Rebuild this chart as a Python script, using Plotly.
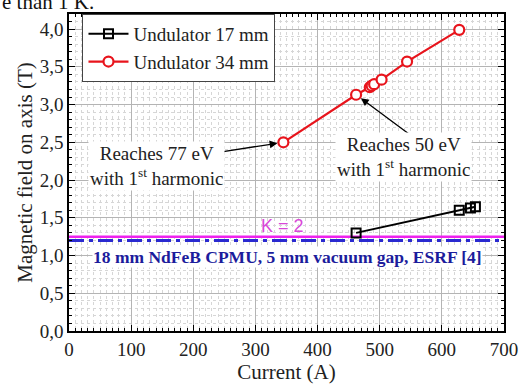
import plotly.graph_objects as go

# ---- data ----
cur_17 = [462, 628, 646, 654]
field_17 = [1.30, 1.60, 1.63, 1.645]
cur_34 = [345, 462, 484, 487, 491, 503, 544, 628]
field_34 = [2.50, 3.13, 3.23, 3.25, 3.27, 3.33, 3.57, 3.99]
k2_level = 1.25
esrf_level = 1.20
x_range = [0, 700]
y_range = [0, 4.2]
y_ticks = [0, 0.5, 1, 1.5, 2, 2.5, 3, 3.5, 4]
x_ticks = [0, 100, 200, 300, 400, 500, 600, 700]

SERIF = "Liberation Serif"

fig = go.Figure()

# reference lines
fig.add_trace(go.Scatter(x=x_range, y=[esrf_level, esrf_level], mode="lines",
                         line=dict(color="#2a2ad0", width=3, dash="15px,5px,4px,5px"),
                         showlegend=False, hoverinfo="skip"))
fig.add_trace(go.Scatter(x=x_range, y=[k2_level, k2_level], mode="lines",
                         line=dict(color="#ee22ee", width=2.5),
                         showlegend=False, hoverinfo="skip"))

fig.add_trace(go.Scatter(x=cur_17, y=field_17, mode="lines+markers", name="Undulator 17 mm",
                         line=dict(color="black", width=2),
                         marker=dict(symbol="square-open", size=9, color="black",
                                     line=dict(width=2, color="black"))))
fig.add_trace(go.Scatter(x=cur_34, y=field_34, mode="lines+markers", name="Undulator 34 mm",
                         line=dict(color="#e8141c", width=2.2),
                         marker=dict(symbol="circle", size=10, color="white",
                                     line=dict(width=2.2, color="#e8141c"))))

axis_common = dict(
    showline=True, linecolor="black", linewidth=1.5, mirror="allticks",
    ticks="inside", ticklen=6, tickwidth=1.2, tickcolor="black",
    showgrid=True, gridcolor="#b4b4b4", gridwidth=1, zeroline=False,
    tickfont=dict(family=SERIF, size=19, color="#222"),
)

fig.update_xaxes(range=x_range, tickvals=x_ticks,
                 title=dict(text="Current (A)", font=dict(family=SERIF, size=21, color="#222"), standoff=0),
                 minor=dict(dtick=10, showgrid=True, gridcolor="#d6d6d6", griddash="dot",
                            ticks="inside", ticklen=3, tickcolor="black"),
                 **axis_common)
fig.update_yaxes(range=y_range, tickvals=y_ticks, tickformat=".1f",
                 title=dict(text="Magnetic field on axis (T)", font=dict(family=SERIF, size=21, color="#222"), standoff=1),
                 minor=dict(dtick=0.1, showgrid=True, gridcolor="#d6d6d6", griddash="dot",
                            ticks="inside", ticklen=3, tickcolor="black"),
                 **axis_common)

annotations = [
    dict(x=351.6, y=0.98, xref="x", yref="y", showarrow=False,
         text="<b>18 mm NdFeB CPMU, 5 mm vacuum gap, ESRF [4]</b>",
         font=dict(family=SERIF, size=17.5, color="#1c1c9c"), bgcolor="white", borderpad=0),
    dict(x=343, y=1.385, xref="x", yref="y", showarrow=False, text="K = 2",
         font=dict(family="Liberation Sans", size=18, color="#d848d8")),
    # arrows
    dict(x=345, y=2.5, xref="x", yref="y", ax=238, ay=2.365, axref="x", ayref="y",
         text="", showarrow=True, arrowhead=2, arrowsize=1.2, arrowwidth=1.3,
         arrowcolor="black", standoff=6),
    dict(x=462, y=3.13, xref="x", yref="y", ax=549, ay=2.60, axref="x", ayref="y",
         text="", showarrow=True, arrowhead=2, arrowsize=1.2, arrowwidth=1.3,
         arrowcolor="black", standoff=6),
    dict(x=141, y=2.18, xref="x", yref="y", showarrow=False,
         text="Reaches 77 eV<br>with 1<sup>st</sup> harmonic",
         font=dict(family=SERIF, size=19, color="#222"), bgcolor="white", borderpad=1),
    dict(x=538, y=2.30, xref="x", yref="y", showarrow=False,
         text="Reaches 50 eV<br>with 1<sup>st</sup> harmonic",
         font=dict(family=SERIF, size=19, color="#222"), bgcolor="white", borderpad=1),
    # cropped text from surrounding document
    dict(x=-69 / 438, y=1.037, xref="paper", yref="paper", xanchor="left", yanchor="middle",
         showarrow=False, text="e than 1 K.", font=dict(family=SERIF, size=21, color="#111")),
]

fig.update_layout(
    width=530, height=386,
    margin=dict(l=69, r=23, t=13, b=49),
    paper_bgcolor="white", plot_bgcolor="white",
    separators=", ",
    annotations=annotations,
    legend=dict(x=0.031, y=1.0, xanchor="left", yanchor="top",
                bgcolor="white", bordercolor="#444", borderwidth=1,
                font=dict(family=SERIF, size=19, color="#222"),
                tracegroupgap=0, itemwidth=40),
)

fig.write_html("out.html", config={"displayModeBar": False},
               post_script="document.body.style.margin='0px';document.body.style.overflow='hidden';")
